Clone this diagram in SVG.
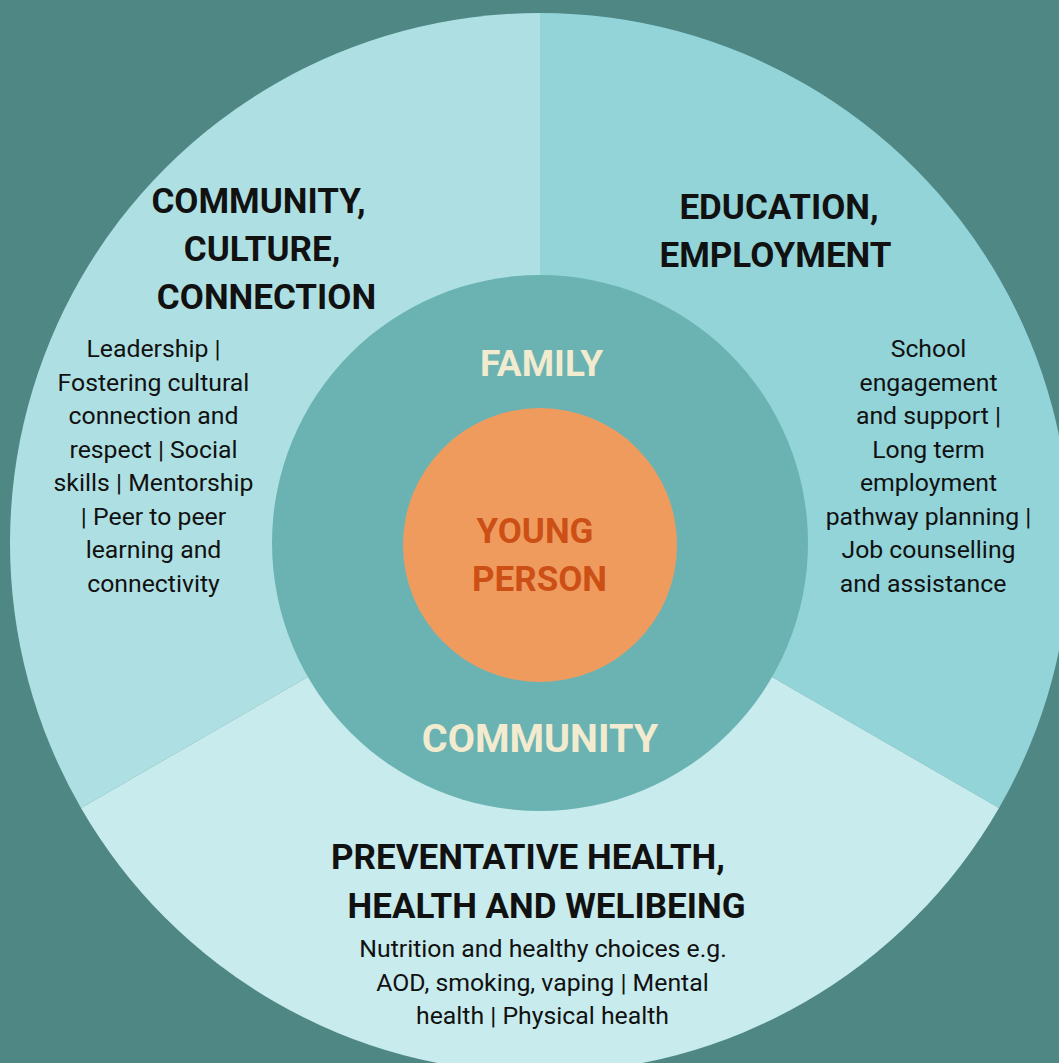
<svg xmlns="http://www.w3.org/2000/svg" width="1059" height="1063" viewBox="0 0 1059 1063">
<style>
.h{font-family:Roboto,"Liberation Sans",sans-serif;font-weight:700;font-size:35px;fill:#111;text-anchor:middle}
.b{font-family:Roboto,"Liberation Sans",sans-serif;font-weight:400;font-size:24.8px;fill:#111;text-anchor:middle}
.c{font-family:Roboto,"Liberation Sans",sans-serif;font-weight:700;fill:#F3EBCF;text-anchor:middle}
.y{font-family:Roboto,"Liberation Sans",sans-serif;font-weight:700;font-size:35px;fill:#CC5016;text-anchor:middle}
</style>
<rect width="1059" height="1063" fill="#4F8785"/>
<g id="community-culture">
<path d="M540,543 L540,13 A530,530 0 0 0 81,808 Z" fill="#AEE0E3"/>
<text class="h" x="258.5" y="213">COMMUNITY,</text>
<text class="h" x="262" y="261">CULTURE,</text>
<text class="h" x="266.5" y="309">CONNECTION</text>
<text class="b" x="153.5" y="357">Leadership |</text>
<text class="b" x="153.5" y="391">Fostering cultural</text>
<text class="b" x="153.5" y="424">connection and</text>
<text class="b" x="153.5" y="458">respect | Social</text>
<text class="b" x="153.5" y="491">skills | Mentorship</text>
<text class="b" x="153.5" y="525">| Peer to peer</text>
<text class="b" x="153.5" y="558">learning and</text>
<text class="b" x="153.5" y="592">connectivity</text>
</g>
<g id="education-employment">
<path d="M540,543 L540,13 A530,530 0 0 1 999,808 Z" fill="#93D4D9"/>
<text class="h" x="779" y="219">EDUCATION,</text>
<text class="h" x="775.5" y="267">EMPLOYMENT</text>
<text class="b" x="928.5" y="357">School</text>
<text class="b" x="928.5" y="391">engagement</text>
<text class="b" x="928.5" y="424">and support |</text>
<text class="b" x="928.5" y="458">Long term</text>
<text class="b" x="928.5" y="491">employment</text>
<text class="b" x="928.5" y="525">pathway planning |</text>
<text class="b" x="928.5" y="558">Job counselling</text>
<text class="b" x="923" y="592">and assistance</text>
</g>
<g id="health-wellbeing">
<path d="M540,543 L81,808 A530,530 0 0 0 999,808 Z" fill="#C8EBED"/>
<text class="h" x="528" y="869">PREVENTATIVE HEALTH,</text>
<text class="h" x="546.5" y="918">HEALTH AND WELIBEING</text>
<text class="b" x="543" y="957">Nutrition and healthy choices e.g.</text>
<text class="b" x="542.5" y="991">AOD, smoking, vaping | Mental</text>
<text class="b" x="542.5" y="1024">health | Physical health</text>
</g>
<g id="family-community">
<circle cx="540" cy="543" r="268" fill="#6BB3B2"/>
<text class="c" x="541.5" y="376" font-size="37">FAMILY</text>
<text class="c" x="540" y="752" font-size="39.5">COMMUNITY</text>
</g>
<g id="young-person">
<circle cx="540" cy="545" r="137" fill="#F09B5E"/>
<text class="y" x="535" y="543">YOUNG</text>
<text class="y" x="539.5" y="591">PERSON</text>
</g>
</svg>
